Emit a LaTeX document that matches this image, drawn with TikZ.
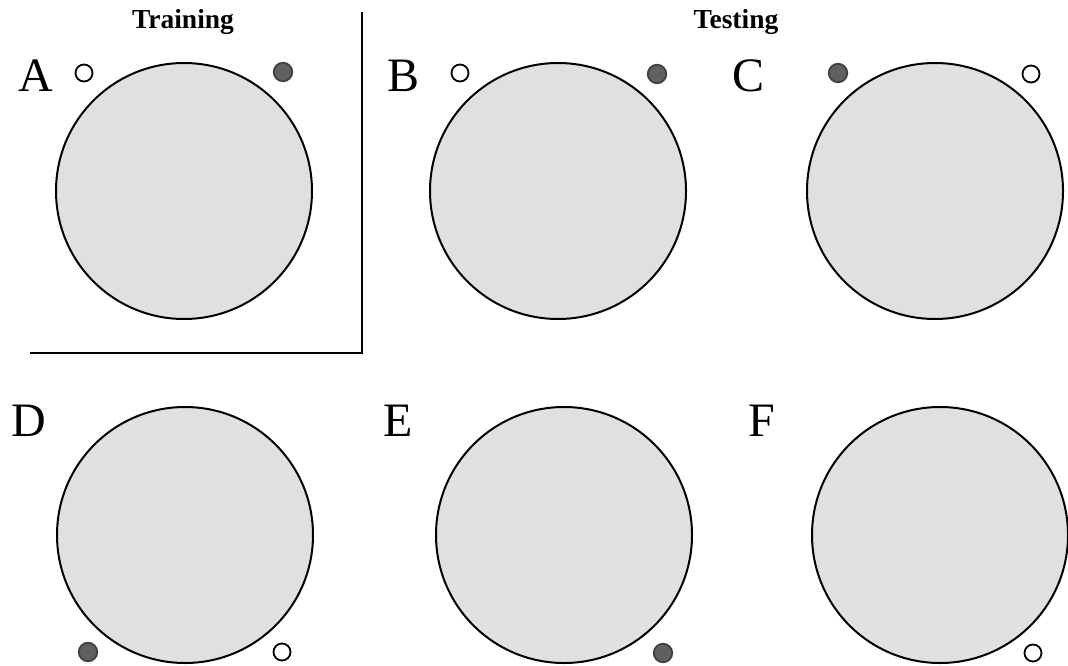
\documentclass[tikz,border=0pt]{standalone}
\usepackage{fontspec}
\setmainfont{Liberation Serif}
\definecolor{arena}{HTML}{E0E0E0}
\definecolor{cue}{HTML}{606060}
\begin{document}
\begin{tikzpicture}[x=1pt,y=-1pt,
  pool/.style={circle,draw=black,line width=2pt,fill=arena,minimum size=256pt,inner sep=0pt},
  opencue/.style={circle,draw=black,line width=1.8pt,fill=white,minimum size=17pt,inner sep=0pt},
  filledcue/.style={circle,draw=black!75,line width=1.8pt,fill=cue,minimum size=18.5pt,inner sep=0pt},
  panel/.style={font=\fontsize{48}{50}\selectfont,inner sep=0pt},
  heading/.style={font=\bfseries\fontsize{27.5}{29}\selectfont,inner sep=0pt}]
\useasboundingbox (0,0) rectangle (1068,666);

% headings
\node[heading] (train) at (183,22) {Training};
\node[heading] (test) at (736,22) {Testing};

% frame around the training panel
\coordinate (fTop) at (362,12);
\coordinate (fCorner) at (362,353);
\coordinate (fLeft) at (30,353);
\draw[line width=1.8pt] (fTop) -- (fCorner) -- (fLeft);

% panel letters
\node[panel] (lA) at (36,76) {A};
\node[panel] (lB) at (404,76) {B};
\node[panel] (lC) at (748,76) {C};
\node[panel] (lD) at (29,421) {D};
\node[panel] (lE) at (398,421) {E};
\node[panel] (lF) at (762,421) {F};

% pools
\node[pool] (pA) at (184,191) {};
\node[pool] (pB) at (558,191) {};
\node[pool] (pC) at (935,191) {};
\node[pool] (pD) at (185,535) {};
\node[pool] (pE) at (564,535) {};
\node[pool] (pF) at (940,535) {};

% cues
\node[opencue]   (cA1) at (84,73) {};
\node[filledcue] (cA2) at (283,72) {};
\node[opencue]   (cB1) at (460,73) {};
\node[filledcue] (cB2) at (657,74) {};
\node[filledcue] (cC1) at (838,73) {};
\node[opencue]   (cC2) at (1031,74) {};
\node[filledcue] (cD1) at (88,652) {};
\node[opencue]   (cD2) at (282,652) {};
\node[filledcue] (cE1) at (663,653) {};
\node[opencue]   (cF1) at (1033,653) {};
\end{tikzpicture}
\end{document}
